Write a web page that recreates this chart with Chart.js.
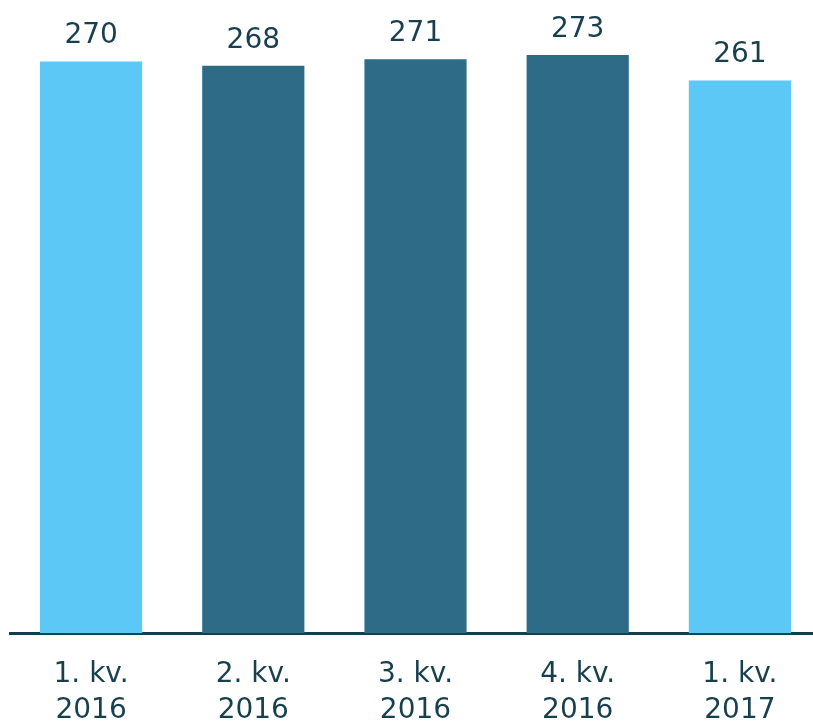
<!DOCTYPE html>
<html>
<head>
<meta charset="utf-8">
<script src="https://cdn.jsdelivr.net/npm/chart.js@4"></script>
<style>
  html, body { margin: 0; padding: 0; background: #fff; overflow: hidden; }
  #wrap { width: 821px; height: 723px; }
</style>
</head>
<body>
<div id="wrap"><canvas id="chart" width="821" height="723"></canvas></div>
<script>
const categories = [['1. kv.', '2016'], ['2. kv.', '2016'], ['3. kv.', '2016'], ['4. kv.', '2016'], ['1. kv.', '2017']];
const values = [270, 268, 271, 273, 261];
const barColors = ['#5BC8F5', '#2D6B87', '#2D6B87', '#2D6B87', '#5BC8F5'];

const textColor = '#173F4E';
const fontFamily = '"DejaVu Sans", sans-serif';

// draws the value above each bar
const valueLabels = {
  id: 'valueLabels',
  afterDatasetsDraw(chart) {
    const ctx = chart.ctx;
    const meta = chart.getDatasetMeta(0);
    ctx.save();
    ctx.fillStyle = textColor;
    ctx.font = '28px ' + fontFamily;
    ctx.textAlign = 'center';
    ctx.textBaseline = 'alphabetic';
    meta.data.forEach((bar, i) => {
      ctx.fillText(values[i], bar.x, bar.y - 18);
    });
    ctx.restore();
  }
};

new Chart(document.getElementById('chart'), {
  type: 'bar',
  data: {
    labels: categories,
    datasets: [{
      data: values,
      backgroundColor: barColors,
      borderWidth: 0,
      categoryPercentage: 1,
      barPercentage: 0.63
    }]
  },
  options: {
    responsive: false,
    animation: false,
    layout: { padding: { left: 10, right: 0, top: 0, bottom: -29 } },
    plugins: {
      legend: { display: false },
      tooltip: { enabled: false }
    },
    scales: {
      y: {
        display: false,
        min: 0,
        max: 299
      },
      x: {
        grid: { display: false, drawTicks: false },
        border: { display: true, color: '#123F4E', width: 3 },
        ticks: {
          color: textColor,
          font: { family: fontFamily, size: 28, lineHeight: 1.3 },
          padding: 23,
          maxRotation: 0
        }
      }
    }
  },
  plugins: [valueLabels]
});
</script>
</body>
</html>
